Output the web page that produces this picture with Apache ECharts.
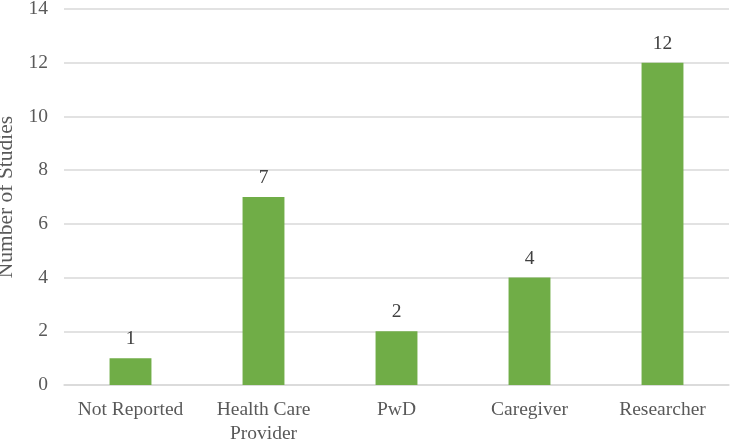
<!DOCTYPE html>
<html>
<head>
<meta charset="utf-8">
<script src="https://cdn.jsdelivr.net/npm/echarts@6/dist/echarts.min.js"></script>
<style>html,body{margin:0;padding:0;background:#fff}#c{width:731px;height:440px}</style>
</head>
<body>
<div id="c"></div>
<script>
var categories = ['Not Reported', 'Health Care\nProvider', 'PwD', 'Caregiver', 'Researcher'];
var values = [1, 7, 2, 4, 12];
var yTicks = [0, 2, 4, 6, 8, 10, 12, 14];

var font = '"Liberation Serif", "Times New Roman", serif';
var chart = echarts.init(document.getElementById('c'), null, {renderer: 'canvas'});
chart.setOption({
  animation: false,
  grid: {left: 64, right: 2, top: 9, bottom: 55, containLabel: false, outerBoundsMode: 'none'},
  xAxis: {
    type: 'category',
    data: categories,
    axisLine: {show: true, lineStyle: {color: '#d9d9d9', width: 1.5}},
    axisTick: {show: false},
    axisLabel: {color: '#595959', fontFamily: font, fontSize: 19.5, margin: 13, lineHeight: 24, interval: 0}
  },
  yAxis: {
    type: 'value',
    min: yTicks[0],
    max: yTicks[yTicks.length - 1],
    interval: 2,
    name: 'Number of Studies',
    nameLocation: 'middle',
    nameGap: 41,
    nameTextStyle: {color: '#595959', fontFamily: font, fontSize: 21.5},
    axisLine: {show: false},
    axisTick: {show: false},
    axisLabel: {color: '#595959', fontFamily: font, fontSize: 19.5, margin: 16},
    splitLine: {lineStyle: {color: '#d9d9d9', width: 1.5}}
  },
  series: [{
    type: 'bar',
    data: values,
    barWidth: '31.5%',
    itemStyle: {color: '#70ad47'},
    label: {show: true, position: 'top', distance: 9, color: '#404040', fontFamily: font, fontSize: 19.5}
  }]
});
</script>
</body>
</html>
